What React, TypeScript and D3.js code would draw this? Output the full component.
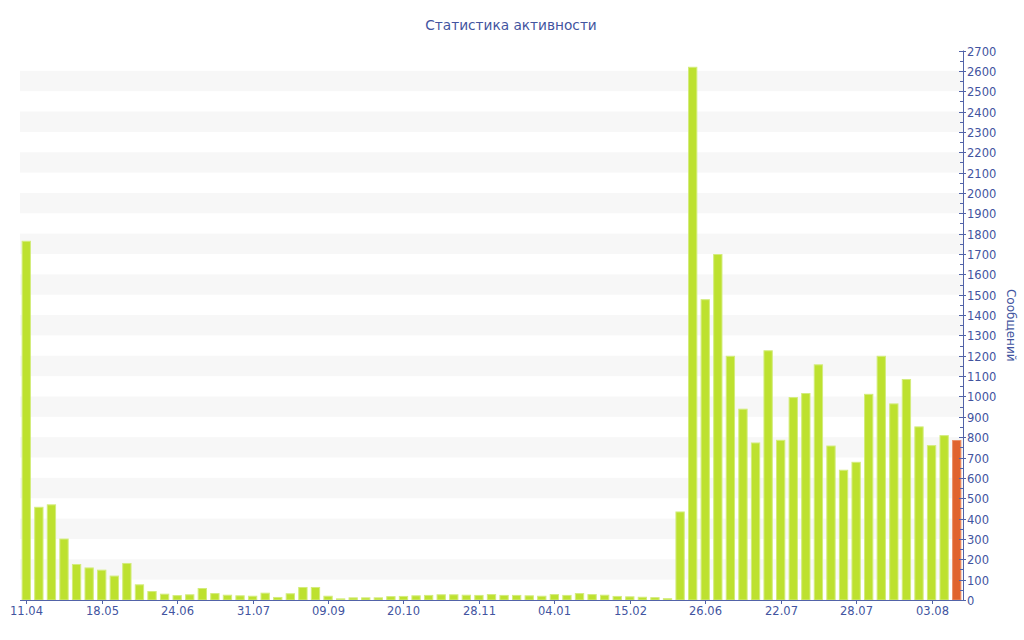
import React from "react";
import * as d3 from "d3";

// messages per period, oldest first; the last one is the current (unfinished) period
const messageCounts = [
  1765, 458, 470, 302, 177, 160, 149, 120, 182, 77,
  44, 31, 24, 28, 59, 34, 26, 23, 21, 36,
  15, 33, 64, 64, 21, 8, 13, 13, 13, 19,
  20, 23, 25, 28, 28, 26, 25, 29, 25, 25,
  23, 21, 29, 25, 34, 29, 26, 20, 18, 16,
  14, 9, 435, 2620, 1478, 1700, 1200, 940, 774, 1227,
  787, 997, 1017, 1158, 759, 640, 679, 1013, 1200, 966,
  1086, 853, 761, 810, 786,
];

// labels shown under every sixth bar
const dateLabels = [
  "11.04", "18.05", "24.06", "31.07", "09.09", "20.10", "28.11",
  "04.01", "15.02", "26.06", "22.07", "28.07", "03.08",
];
const labelEvery = 6;

const yMax = 2700;
const yStep = 100;

const W = 1024;
const H = 640;
const left = 20;
const right = 963;
const top = 50.5;
const bottom = 600;

const FONT = "DejaVu Sans, Verdana, sans-serif";
const TEXT = "#4254a0";
const AXIS = "#5263a8";
const GREEN = "#bde12f";
const GREEN_EDGE = "#d3ec7c";
const ORANGE = "#e0632e";
const ORANGE_EDGE = "#eb9068";

export default function App() {
  const x = d3
    .scaleBand<number>()
    .domain(d3.range(messageCounts.length))
    .range([left, right])
    .paddingInner(0.26)
    .paddingOuter(0.13);

  const y = d3.scaleLinear().domain([0, yMax]).range([bottom, top]);

  const majorTicks = d3.range(0, yMax + 1, yStep);
  const minorTicks = d3.range(yStep / 2, yMax, yStep);
  // light bands between every other pair of gridlines
  const bands = d3.range(yStep, yMax, yStep * 2);

  const lastIdx = messageCounts.length - 1;

  return (
    <svg
      width={W}
      height={H}
      style={{ position: "absolute", left: 0, top: 0, background: "#fff" }}
      fontFamily={FONT}
    >
      <text x={511} y={30} textAnchor="middle" fontSize={13.7} fill={TEXT}>
        Статистика активности
      </text>

      {bands.map((b) => (
        <rect
          key={"band" + b}
          x={left}
          y={y(b + yStep)}
          width={right - left}
          height={y(b) - y(b + yStep)}
          fill="#f7f7f7"
        />
      ))}

      {messageCounts.map((v, i) => {
        const last = i === lastIdx;
        return (
          <rect
            key={"bar" + i}
            x={x(i)! + 0.5}
            y={y(v) + 0.5}
            width={x.bandwidth() - 1}
            height={Math.max(0, y(0) - y(v) - 0.5)}
            fill={last ? ORANGE : GREEN}
            stroke={last ? ORANGE_EDGE : GREEN_EDGE}
            strokeWidth={1}
          />
        );
      })}

      {/* x axis */}
      <line x1={left} x2={right} y1={bottom + 0.5} y2={bottom + 0.5} stroke={AXIS} strokeWidth={1} />
      {dateLabels.map((lab, k) => {
        const cx = x(k * labelEvery)! + x.bandwidth() / 2;
        return (
          <g key={"xt" + k} transform={`translate(${Math.round(cx) + 0.5},${bottom})`}>
            <line y1={0} y2={4} stroke={AXIS} />
            <text y={15} textAnchor="middle" fontSize={11.5} fill={TEXT}>
              {lab}
            </text>
          </g>
        );
      })}

      {/* y axis on the right */}
      <line x1={right + 0.5} x2={right + 0.5} y1={top} y2={bottom + 1} stroke={AXIS} strokeWidth={1} />
      {minorTicks.map((t) => (
        <line
          key={"mn" + t}
          x1={right - 3}
          x2={right}
          y1={Math.round(y(t)) + 0.5}
          y2={Math.round(y(t)) + 0.5}
          stroke={AXIS}
        />
      ))}
      {majorTicks.map((t) => (
        <g key={"mj" + t} transform={`translate(${right},${Math.round(y(t)) + 0.5})`}>
          <line x1={-4} x2={3} stroke={AXIS} />
          <text x={4} dy="0.36em" fontSize={11.5} fill={TEXT}>
            {t}
          </text>
        </g>
      ))}
      <text
        transform={`translate(1007,${(top + bottom) / 2}) rotate(90)`}
        textAnchor="middle"
        fontSize={12}
        fill={TEXT}
      >
        Сообщений
      </text>
    </svg>
  );
}
